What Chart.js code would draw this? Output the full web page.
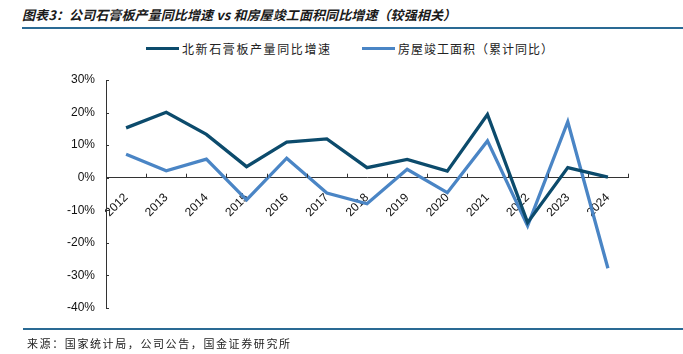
<!DOCTYPE html>
<html><head><meta charset="utf-8">
<script src="https://cdn.jsdelivr.net/npm/chart.js@4.4.1/dist/chart.umd.min.js"></script>
<style>
html,body{margin:0;padding:0;background:#fff;}
#wrap{position:relative;width:683px;height:354px;overflow:hidden;font-family:"Noto Sans CJK SC",sans-serif;}
#title{position:absolute;left:22px;top:5px;font-size:13px;font-weight:bold;font-style:italic;color:#1a1a1a;white-space:nowrap;letter-spacing:0.1px;}
#rule1{position:absolute;left:22px;right:0;top:27px;height:2px;background:#2a6a94;}
#rule2{position:absolute;left:23px;right:0;top:328px;height:2px;background:#2a6a94;}
#src{position:absolute;left:27px;top:335px;font-size:11px;color:#222;letter-spacing:1.6px;white-space:nowrap;}
.lg{position:absolute;top:40px;font-size:12px;color:#222;white-space:nowrap;letter-spacing:1.6px;}
.sw{position:absolute;top:47px;height:3px;width:33px;}
canvas{position:absolute;left:0;top:0;}
</style></head>
<body><div id="wrap">
<div id="title">图表3：公司石膏板产量同比增速 vs 和房屋竣工面积同比增速（较强相关）</div>
<div id="rule1"></div>
<div class="sw" style="left:146px;background:#0c4b6c"></div>
<div class="lg" style="left:182px">北新石膏板产量同比增速</div>
<div class="sw" style="left:362px;background:#4a85c5"></div>
<div class="lg" style="left:398px;letter-spacing:1px">房屋竣工面积（累计同比）</div>
<canvas id="c" width="683" height="354"></canvas>
<div id="rule2"></div>
<div id="src">来源：国家统计局，公司公告，国金证券研究所</div>
</div>
<script>
const years = ['2012','2013','2014','2015','2016','2017','2018','2019','2020','2021','2022','2023','2024'];
const gypsumGrowth = [15.3, 20.1, 13.3, 3.4, 10.9, 11.9, 3.1, 5.6, 2.0, 19.4, -13.8, 3.1, 0.2];
const completionGrowth = [7.2, 2.1, 5.7, -6.8, 6.0, -4.7, -8.0, 2.6, -4.6, 11.3, -14.8, 17.2, -27.8];
const seriesNames = ['北新石膏板产量同比增速', '房屋竣工面积（累计同比）'];
const yTicks = [30, 20, 10, 0, -10, -20, -30, -40];

const innerTicks = {
  id: 'innerTicks',
  afterDraw(chart) {
    const ctx = chart.ctx, xs = chart.scales.x, ys = chart.scales.y;
    const y0 = ys.getPixelForValue(0);
    ctx.save();
    ctx.strokeStyle = '#333'; ctx.lineWidth = 1;
    ctx.beginPath();
    for (let i = 0; i <= years.length; i++) {
      const px = Math.round(xs.getPixelForValue(i - 0.5)) + 0.5;
      ctx.moveTo(px, y0); ctx.lineTo(px, y0 - 4);
    }
    yTicks.forEach(v => {
      const py = Math.round(ys.getPixelForValue(v)) + 0.5;
      ctx.moveTo(xs.left, py); ctx.lineTo(xs.left + 3, py);
    });
    ctx.stroke();
    ctx.restore();
  }
};

new Chart(document.getElementById('c'), {
  type: 'line',
  data: {
    labels: years,
    datasets: [
      {label: seriesNames[0], data: gypsumGrowth, borderColor: '#0c4b6c', borderWidth: 3.3, pointRadius: 0, tension: 0},
      {label: seriesNames[1], data: completionGrowth, borderColor: '#4a85c5', borderWidth: 3.3, pointRadius: 0, tension: 0}
    ]
  },
  options: {
    responsive: false, animation: false,
    layout: {padding: {left: 0, right: 55, top: 80, bottom: 46}},
    plugins: {legend: {display: false}, tooltip: {enabled: false}},
    scales: {
      x: {
        type: 'category', offset: true,
        position: {y: 0},
        afterFit: s => { s.height = 0; },
        grid: {display: false, drawTicks: false},
        border: {display: true, color: '#333', width: 1},
        ticks: {color: '#111', font: {family: 'Liberation Sans, Arial', size: 12}, minRotation: 45, maxRotation: 45, padding: 13, autoSkip: false}
      },
      y: {
        min: -40, max: 30,
        afterFit: s => { s.width = 106; },
        afterBuildTicks: s => { s.ticks = yTicks.map(v => ({value: v})); },
        grid: {display: false, drawTicks: false},
        border: {display: true, color: '#333', width: 1},
        ticks: {color: '#111', font: {family: 'Liberation Sans, Arial', size: 12}, padding: 11, callback: v => v + '%'}
      }
    }
  },
  plugins: [innerTicks]
});
</script>
</body></html>
